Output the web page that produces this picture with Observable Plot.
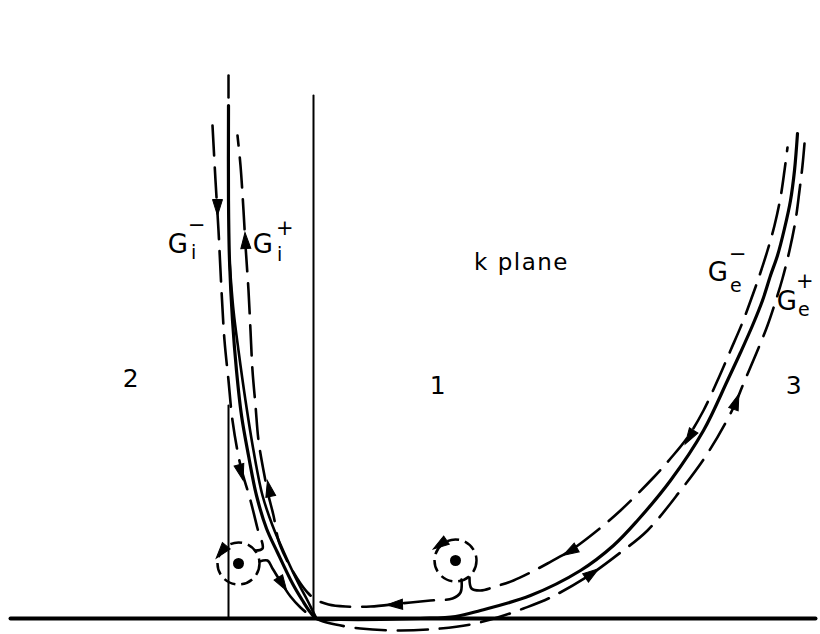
<!DOCTYPE html>
<html><head><meta charset="utf-8">
<script src="https://cdn.jsdelivr.net/npm/d3@7"></script>
<script src="https://cdn.jsdelivr.net/npm/@observablehq/plot@0.6"></script>
<style>
body{margin:0;background:#fff}
#chart svg text{letter-spacing:1.5px}
</style>
</head><body><div id="chart"></div>
<script>
// Real axis of the k plane and the two branch cuts (picture units)
const realAxis = [[10,618],[815,618]];
const cutLeft = [[228,405],[228,618]];
const cutRight = [[313,95],[313,618]];
const topDash = [[228,75],[228,97]];

// Solid curves (steepest-descent path)
const solidMain = [[228,105],[228,200],[229,260],[232,320],[236,370],[241,415],[248,455],[256,495],[266,528],[277,552],[292,583],[302,600],[310,612],[316,618],
  [340,619],[380,619],[420,618],[455,616],[480,610],[530,595],[580,570],[613,545],[637,520],[670,480],[703,430],[727,380],[740,352],[752,325],[762,300],[770,275],[777,255],[784,228],[790,200],[794,170],[797,133]];
const solidInner = [[229,260],[233,310],[238,350],[245,400],[253,450],[262,495],[272,525],[283,551],[298,583],[307,600],[313,612],[316,618]];

// Dashed contours
const giMinus = [[212,125],[215,180],[218,230],[221,290],[224,340],[228,380],[232,420],[240,465],[250,500],[257,528],[262,548],[255,550]];
const geP = [[259,561],[267,560],[272,568],[280,581],[290,596],[300,607],[310,615],[320,620],[335,624],[360,628],[400,630],[440,628],[470,624],[497,617],[523,608],[550,597],[587,576],[620,552],[647,530],[680,490],[707,453],[733,407],[743,383],[757,350],[767,325],[776,298],[782,278],[789,250],[795,220],[799,190],[802,165],[804,143]];
const giPlus = [[461,579],[460,592],[452,598],[430,600],[400,603],[370,606],[345,606],[328,604],[315,599],[307,592],[300,583],[293,572],[285,557],[278,540],[273,515],[268,495],[263,470],[258,440],[255,405],[252,370],[250,330],[248,290],[245,245],[243,210],[240,165],[237,135]];
const geMinus = [[469,577],[471,588],[480,590],[495,586],[513,580],[530,572],[547,563],[570,550],[593,533],[620,510],[653,477],[670,458],[687,437],[703,410],[717,380],[730,350],[742,322],[752,295],[759,275],[767,250],[774,225],[780,197],[784,170],[787,147]];

// Poles and encircling loops
const poles = [[238,563],[455,560]];

// Arrowheads: x, y, direction (degrees clockwise from up)
const arrowX = [217,240,281,245,269,396,571,690,590,735,222,441];
const arrowY = [205,470,582,242,490,604,550,435,574,403,550,543];
const arrowDir = [180,165,148,-3,-12,-92,-120,-148,55,20,-141,-124];
const arrows = arrowX.map((x,i)=>({x, y: arrowY[i], a: arrowDir[i]}));

// Labels
const bigLabels = [{x:178,y:244,t:"G"},{x:263,y:244,t:"G"},{x:718,y:272,t:"G"},{x:787,y:301,t:"G"}];
const subLabels = [{x:194,y:252,t:"i"},{x:280,y:254,t:"i"},{x:736,y:285,t:"e"},{x:804,y:309,t:"e"}];
const supLabels = [{x:197,y:225,t:"−"},{x:285,y:228,t:"+"},{x:738,y:254,t:"−"},{x:805,y:281,t:"+"}];
const regionLabels = [{x:131,y:378,t:"2"},{x:438,y:385,t:"1"},{x:794,y:385,t:"3"}];
const planeLabel = [{x:521,y:262,t:"k plane"}];

const font = "DejaVu Sans, Liberation Sans, sans-serif";
const dash = "30,12";
const lineOpts = {curve:"catmull-rom", stroke:"black"};

// elongated arrowhead pointing up; rotated by the data's direction
const arrowHead = {draw(ctx){ ctx.moveTo(0,-10); ctx.lineTo(5,6); ctx.lineTo(-5,6); ctx.closePath(); }};

const chart = Plot.plot({
  width: 820, height: 634, margin: 0,
  x: {domain:[0,820], range:[0,820], axis:null},
  y: {domain:[0,634], range:[0,634], axis:null},
  style: {background:"white", fontFamily: font},
  marks: [
    Plot.line(realAxis, {stroke:"black", strokeWidth:4}),
    Plot.line(cutLeft, {stroke:"black", strokeWidth:2}),
    Plot.line(cutRight, {stroke:"black", strokeWidth:2}),
    Plot.line(topDash, {stroke:"black", strokeWidth:2.5}),
    Plot.line(solidMain, {...lineOpts, strokeWidth:3.2}),
    Plot.line(solidInner, {...lineOpts, strokeWidth:2.6}),
    Plot.line(giMinus, {...lineOpts, strokeWidth:2.6, strokeDasharray:dash}),
    Plot.line(geP, {...lineOpts, strokeWidth:2.6, strokeDasharray:dash}),
    Plot.line(giPlus, {...lineOpts, strokeWidth:2.6, strokeDasharray:dash}),
    Plot.line(geMinus, {...lineOpts, strokeWidth:2.6, strokeDasharray:dash}),
    Plot.dot(poles, {r:21, stroke:"black", fill:"none", strokeWidth:2.5, strokeDasharray:"12,6"}),
    Plot.dot(poles, {r:5.5, fill:"black", stroke:"none"}),
    Plot.dot(arrows, {x:"x", y:"y", rotate:"a", symbol:arrowHead, r:5, fill:"black", stroke:"black", strokeWidth:1}),
    Plot.text(bigLabels, {x:"x", y:"y", text:"t", fontSize:26, fontFamily:font}),
    Plot.text(subLabels, {x:"x", y:"y", text:"t", fontSize:19, fontFamily:font}),
    Plot.text(supLabels, {x:"x", y:"y", text:"t", fontSize:21, fontFamily:font}),
    Plot.text(regionLabels, {x:"x", y:"y", text:"t", fontSize:25, fontFamily:font}),
    Plot.text(planeLabel, {x:"x", y:"y", text:"t", fontSize:23, fontFamily:font})
  ]
});
document.getElementById("chart").appendChild(chart);
</script>
</body></html>
